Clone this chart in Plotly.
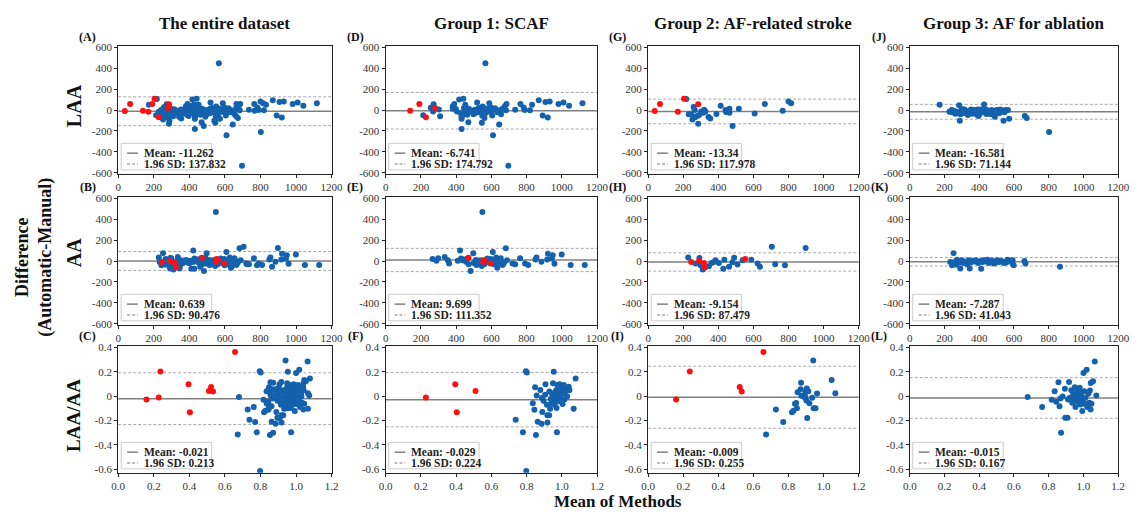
import plotly.graph_objects as go

# page body has a default 8px margin: build the figure so that it lands on the 1143x514 viewport
OFF = 8
W, H = 1143 - OFF, 514 - OFF

# ---------------- data ----------------
COLUMN_TITLES = ["The entire dataset", "Group 1: SCAF", "Group 2: AF-related stroke", "Group 3: AF for ablation"]
ROW_LABELS = ["LAA", "AA", "LAA/AA"]
PANEL_LETTERS = [["(A)", "(D)", "(G)", "(J)"], ["(B)", "(E)", "(H)", "(K)"], ["(C)", "(F)", "(I)", "(L)"]]

# LAA difference vs mean (Group 1, 2, 3)
G1_LAA_BLUE = [(213, -50), (256, 22), (269, -13), (272, 56), (302, 6), (309, -59), (381, 13), (380, 34), (389, 59),
               (398, 9), (404, -13), (417, 100), (431, -84), (431, -181), (441, 109), (444, 19), (452, 50), (459, -13),
               (463, -44), (472, 13), (456, 9), (450, -19), (431, -69), (469, -116), (491, -13), (506, 3), (509, -28),
               (519, 72), (528, 19), (543, -3), (546, -122), (550, 34), (552, -25), (556, 19), (557, -9), (561, -75),
               (566, 447), (574, 13), (588, 66), (597, 25), (605, -53), (609, -241), (620, 16), (627, 3), (644, -138),
               (642, -6), (672, 19), (676, 37), (683, -3), (686, 59), (696, -534), (735, 3), (765, 59), (783, 25),
               (789, 0), (819, -3), (831, 50), (869, 94), (891, -53), (907, 78), (920, -72), (931, 81), (981, 59),
               (1009, 72), (1041, 41), (1117, 66), (425, -30), (437, -45), (485, -5), (498, -40), (515, -10),
               (535, -20), (548, -55), (565, -30), (580, -15), (600, -25), (615, 5), (635, -20), (655, -40), (660, 10)]
G1_LAA_RED = [(139, -6), (191, 59), (228, -69), (281, 19)]
G2_LAA_BLUE = [(217, 106), (259, 28), (265, 0), (231, -41), (244, -41), (252, -91), (267, -69), (278, -56),
               (285, -131), (289, -50), (302, -13), (319, 3), (326, -13), (313, -25), (344, -66), (354, -81),
               (389, -38), (413, 41), (441, 0), (444, -19), (463, 13), (463, -25), (481, -153), (517, 13),
               (607, -34), (665, 59), (767, -6), (800, 81), (815, 66)]
G2_LAA_RED = [(37, -8), (67, 59), (169, -16), (204, 109), (285, 56)]
G3_LAA_BLUE = [(172, 50), (228, -16), (241, 0), (254, -6), (269, -16), (284, 47), (288, -103), (278, -31), (297, 0),
               (307, -25), (316, 6), (325, -16), (335, -47), (344, -6), (353, 6), (363, -25), (372, 0), (381, -31),
               (391, 6), (400, -16), (396, -56), (409, 6), (419, -6), (428, 53), (437, 6), (441, -38), (452, -16),
               (460, -31), (471, 0), (484, -25), (490, -63), (503, 0), (512, -16), (521, 6), (535, -6), (540, -103),
               (550, 0), (565, 0), (572, -84), (662, -56), (673, -75), (802, -209), (245, -20), (262, -35),
               (292, -40), (300, 10), (320, -30), (340, -20), (358, -35), (376, -10), (386, -45), (405, -30),
               (424, -20), (446, -5), (466, -40), (478, -10), (495, -5), (515, -30), (528, -10), (545, -20)]
G3_LAA_RED = []

# AA difference vs mean
G1_AA_BLUE = [(266, 20), (288, 2), (298, 26), (335, 39), (353, 8), (360, -23), (409, 2), (422, 101), (428, 23),
              (437, 8), (446, 14), (456, -8), (465, 23), (471, -30), (482, -95), (497, 73), (508, -8), (515, -39),
              (521, 2), (530, -17), (539, 8), (545, -48), (549, 469), (567, -17), (577, 23), (586, -8), (597, 20),
              (608, 86), (619, 8), (627, 33), (634, -64), (642, 2), (653, 26), (664, -39), (672, -17), (682, 123),
              (689, 8), (720, -23), (735, -30), (763, 26), (791, -23), (809, -39), (850, 14), (856, 33), (884, -8),
              (917, 14), (921, 70), (943, 23), (948, 54), (958, -26), (999, 61), (1050, -39), (1130, -39),
              (500, -20), (512, 10), (525, -25), (535, -5), (555, 5), (560, -30), (575, -5), (590, 10), (600, -15),
              (615, -30), (625, 0), (645, -15)]
G1_AA_RED = [(470, 30), (553, -8), (560, 8), (595, -23)]
G2_AA_BLUE = [(228, 33), (270, -25), (292, 28), (298, -40), (311, -81), (346, -50), (361, -19), (374, -9),
              (384, 6), (403, -19), (428, -75), (434, 12), (461, -56), (480, -12), (490, 31), (509, -34), (538, 6),
              (588, 12), (624, -25), (637, -56), (705, 137), (724, -31), (780, -40), (898, 125)]
G2_AA_RED = [(245, -9), (290, 0), (318, -19), (324, -62), (553, 19)]
G3_AA_BLUE = [(233, -9), (252, 75), (243, -40), (262, -25), (272, 12), (282, 0), (291, -72), (301, 6), (320, -9),
              (330, -31), (339, 6), (345, -72), (359, 0), (379, 6), (388, -9), (407, 0), (411, -75), (427, 6),
              (447, 12), (465, -9), (485, -25), (505, 6), (524, 0), (543, -19), (563, 12), (592, 6), (598, -40),
              (660, 0), (666, -25), (865, -56), (258, -10), (268, -35), (286, -15), (310, -20), (350, -15),
              (370, -5), (395, -20), (420, -10), (440, -5), (455, -20), (475, 5), (495, -15), (515, -10),
              (535, -5), (555, -15), (575, 0), (590, -20)]
G3_AA_RED = []

# LAA/AA ratio difference vs mean
G1_RATIO_BLUE = [(0.738, -0.195), (0.779, -0.297), (0.796, 0.205), (0.801, 0.195), (0.798, -0.616),
                 (0.835, -0.059), (0.844, -0.111), (0.848, 0.073), (0.857, 0.005), (0.863, -0.211),
                 (0.853, -0.319), (0.878, 0.051), (0.887, -0.016), (0.889, -0.130), (0.885, -0.227),
                 (0.896, -0.038), (0.905, 0.011), (0.907, 0.097), (0.915, -0.070), (0.918, -0.216),
                 (0.918, -0.157), (0.928, -0.157), (0.929, 0.038), (0.933, -0.103), (0.937, -0.024),
                 (0.941, -0.059), (0.946, 0.011), (0.950, 0.105), (0.954, 0.200), (0.955, -0.043),
                 (0.959, -0.070), (0.961, 0.032), (0.965, -0.022), (0.968, 0.049), (0.970, -0.097),
                 (0.972, -0.297), (0.974, 0.092), (0.978, 0.005), (0.981, -0.043), (0.983, 0.049),
                 (0.987, 0.097), (0.989, -0.005), (0.993, 0.032), (0.996, -0.022), (1.000, 0.070),
                 (1.004, -0.065), (1.007, 0.022), (1.011, 0.092), (1.015, -0.027), (1.020, 0.038),
                 (1.026, 0.059), (1.030, -0.003), (1.039, 0.078), (1.043, 0.049), (1.067, -0.103),
                 (1.078, 0.146)]
G1_RATIO_RED = [(0.228, -0.011), (0.403, -0.132), (0.395, 0.097), (0.510, 0.043)]
G2_RATIO_BLUE = [(0.672, -0.315), (0.728, -0.110), (0.770, -0.212), (0.820, -0.132), (0.828, -0.121),
                 (0.837, -0.062), (0.844, -0.056), (0.848, -0.099), (0.852, 0.032), (0.869, 0.056),
                 (0.872, 0.110), (0.874, 0.003), (0.885, -0.003), (0.893, 0.013), (0.896, -0.013),
                 (0.898, 0.040), (0.902, -0.035), (0.904, 0.062), (0.907, -0.180), (0.913, 0.040),
                 (0.919, -0.059), (0.935, -0.013), (0.941, 0.293), (0.944, -0.099), (0.954, -0.099),
                 (0.963, 0.022), (1.046, 0.132), (1.067, 0.024)]
G2_RATIO_RED = [(0.159, -0.027), (0.237, 0.202), (0.522, 0.075), (0.533, 0.038), (0.657, 0.363)]
G3_RATIO_BLUE = [(0.679, -0.008), (0.762, -0.090), (0.817, -0.030), (0.834, 0.041), (0.843, -0.046),
                 (0.856, 0.114), (0.862, -0.084), (0.867, -0.019), (0.871, -0.302), (0.880, -0.003),
                 (0.893, 0.060), (0.895, -0.177), (0.908, -0.177), (0.911, -0.027), (0.917, 0.117),
                 (0.922, -0.014), (0.930, 0.049), (0.935, -0.054), (0.941, 0.014), (0.945, -0.027),
                 (0.950, 0.073), (0.954, -0.090), (0.958, 0.000), (0.963, 0.041), (0.967, -0.046),
                 (0.972, 0.019), (0.976, -0.022), (0.978, 0.068), (0.982, -0.068), (0.985, 0.000),
                 (0.989, 0.027), (0.993, -0.122), (0.996, -0.035), (1.000, 0.190), (1.004, 0.041),
                 (1.007, -0.063), (1.011, -0.014), (1.018, 0.217), (1.022, -0.090), (1.028, 0.019),
                 (1.033, -0.054), (1.037, 0.046), (1.041, -0.109), (1.042, 0.109), (1.046, -0.063),
                 (1.055, 0.122), (1.065, 0.285), (1.074, 0.005)]
G3_RATIO_RED = []

# mean and 1.96 SD (row: LAA, AA, LAA/AA; column: entire, G1, G2, G3)
MEANS = [[-11.262, -6.741, -13.34, -16.581],
         [0.639, 9.699, -9.154, -7.287],
         [-0.021, -0.029, -0.009, -0.015]]
SD196 = [[137.832, 174.792, 117.978, 71.144],
         [90.476, 111.352, 87.479, 41.043],
         [0.213, 0.224, 0.255, 0.167]]

X_TICKS_ABS = [0, 200, 400, 600, 800, 1000, 1200]
X_TICKTEXT_ABS = ["0", "200", "400", "600", "800", "1000", "1200"]
Y_TICKS_ABS = [-600, -400, -200, 0, 200, 400, 600]
Y_TICKTEXT_ABS = ["-600", "-400", "-200", "0", "200", "400", "600"]
X_TICKS_RATIO = [0.0, 0.2, 0.4, 0.6, 0.8, 1.0, 1.2]
X_TICKTEXT_RATIO = ["0.0", "0.2", "0.4", "0.6", "0.8", "1.0", "1.2"]
Y_TICKS_RATIO = [-0.6, -0.4, -0.2, 0, 0.2, 0.4]
Y_TICKTEXT_RATIO = ["-0.6", "-0.4", "-0.2", "0", "0.2", "0.4"]

GROUPS = [
    [(G1_LAA_BLUE, G1_LAA_RED), (G2_LAA_BLUE, G2_LAA_RED), (G3_LAA_BLUE, G3_LAA_RED)],
    [(G1_AA_BLUE, G1_AA_RED), (G2_AA_BLUE, G2_AA_RED), (G3_AA_BLUE, G3_AA_RED)],
    [(G1_RATIO_BLUE, G1_RATIO_RED), (G2_RATIO_BLUE, G2_RATIO_RED), (G3_RATIO_BLUE, G3_RATIO_RED)],
]

# ---------------- layout geometry (viewport pixels) ----------------
COL_PX = [(113, 330), (385, 600), (652, 866), (918, 1130)]
ROW_PX = [(42, 172), (196, 326), (348, 477)]
X_RANGES = [[0, 1200], [0, 1200], [0, 1.2]]
Y_RANGES = [[-610, 610], [-610, 610], [-0.63, 0.41]]

SERIF = "Liberation Serif, Times New Roman, serif"
BLUE = "#1461ad"
RED = "#ff1010"


def fx(p):
    return (p - OFF) / W


def fy(p):
    return 1 - (p - OFF) / H


fig = go.Figure()
layout = dict(width=W, height=H, margin=dict(l=0, r=0, t=0, b=0), paper_bgcolor="white",
              plot_bgcolor="white", showlegend=False)
shapes = []
annotations = []

for r in range(3):
    for c in range(4):
        k = r * 4 + c + 1
        xs = "" if k == 1 else str(k)
        if c == 0:
            blue = [p for g in GROUPS[r] for p in g[0]]
            red = [p for g in GROUPS[r] for p in g[1]]
        else:
            blue, red = GROUPS[r][c - 1]
        for pts, col in ((blue, BLUE), (red, RED)):
            if not pts:
                continue
            fig.add_trace(go.Scatter(x=[p[0] for p in pts], y=[p[1] for p in pts], mode="markers",
                                     marker=dict(color=col, size=6, line=dict(width=0)),
                                     xaxis="x" + xs, yaxis="y" + xs, hoverinfo="skip"))
        ratio = r == 2
        x0, x1 = COL_PX[c]
        y0, y1 = ROW_PX[r]
        axis_common = dict(showline=True, mirror=True, linecolor="#222", linewidth=1.3, ticks="outside",
                           ticklen=3, tickwidth=1, tickcolor="#222", showgrid=False, zeroline=False,
                           tickfont=dict(family=SERIF, size=11, color="#333"))
        layout["xaxis" + xs] = dict(domain=[fx(x0), fx(x1)], range=X_RANGES[r], anchor="y" + xs,
                                    tickvals=X_TICKS_RATIO if ratio else X_TICKS_ABS,
                                    ticktext=X_TICKTEXT_RATIO if ratio else X_TICKTEXT_ABS, **axis_common)
        layout["yaxis" + xs] = dict(domain=[fy(y1), fy(y0)], range=Y_RANGES[r], anchor="x" + xs,
                                    tickvals=Y_TICKS_RATIO if ratio else Y_TICKS_ABS,
                                    ticktext=Y_TICKTEXT_RATIO if ratio else Y_TICKTEXT_ABS, **axis_common)
        m, s = MEANS[r][c], SD196[r][c]
        # mean and limits of agreement
        shapes.append(dict(type="line", xref="x" + xs + " domain", yref="y" + xs, x0=0, x1=1, y0=m, y1=m,
                           line=dict(color="#808080", width=1.5), layer="below"))
        for v in (m + s, m - s):
            shapes.append(dict(type="line", xref="x" + xs + " domain", yref="y" + xs, x0=0, x1=1, y0=v, y1=v,
                               line=dict(color="#a8a8a8", width=1, dash="3px,2px"), layer="below"))
        # legend box
        shapes.append(dict(type="rect", xref="paper", yref="paper", x0=fx(x0 + 3), x1=fx(x0 + 95),
                           y0=fy(y1 - 4), y1=fy(y1 - 31), fillcolor="white",
                           line=dict(color="#cccccc", width=1), layer="above"))
        for dy, dash, col, txt in ((21, "solid", "#808080", f"Mean: {m}"),
                                   (10, "3px,2px", "#a8a8a8", f"1.96 SD: {s}")):
            shapes.append(dict(type="line", xref="paper", yref="paper", x0=fx(x0 + 9), x1=fx(x0 + 20),
                               y0=fy(y1 - dy), y1=fy(y1 - dy), line=dict(color=col, width=1.5, dash=dash),
                               layer="above"))
            annotations.append(dict(text="<b>" + txt + "</b>", xref="paper", yref="paper", x=fx(x0 + 24),
                                    y=fy(y1 - dy), xanchor="left", yanchor="middle", showarrow=False,
                                    font=dict(family=SERIF, size=11.5, color="#222")))
        # panel letter
        annotations.append(dict(text="<b>" + PANEL_LETTERS[r][c] + "</b>", xref="paper", yref="paper",
                                x=fx(x0 - 31), y=fy(y0 - 10), xanchor="center", yanchor="middle",
                                showarrow=False, font=dict(family=SERIF, size=12, color="#111")))

# column titles
for c, t in enumerate(COLUMN_TITLES):
    x0, x1 = COL_PX[c]
    annotations.append(dict(text="<b>" + t + "</b>", xref="paper", yref="paper", x=fx((x0 + x1) / 2),
                            y=fy(19), xanchor="center", yanchor="middle", showarrow=False,
                            font=dict(family=SERIF, size=17, color="#111")))

# row labels
for lab, yc, sz in zip(ROW_LABELS, (102, 252, 418), (20, 20, 19)):
    annotations.append(dict(text="<b>" + lab + "</b>", xref="paper", yref="paper", x=fx(68), y=fy(yc),
                            xanchor="center", yanchor="middle", textangle=-90, showarrow=False,
                            font=dict(family=SERIF, size=sz, color="#111")))

annotations.append(dict(text="<b>Difference<br>(Automatic-Manual)</b>", xref="paper", yref="paper",
                        x=fx(27), y=fy(257), xanchor="center", yanchor="middle", textangle=-90,
                        showarrow=False, font=dict(family=SERIF, size=18, color="#111")))
annotations.append(dict(text="<b>Mean of Methods</b>", xref="paper", yref="paper", x=fx(621), y=fy(506),
                        xanchor="center", yanchor="middle", showarrow=False,
                        font=dict(family=SERIF, size=17, color="#111")))

layout["shapes"] = shapes
layout["annotations"] = annotations
fig.update_layout(**layout)
fig.write_html("out.html")
